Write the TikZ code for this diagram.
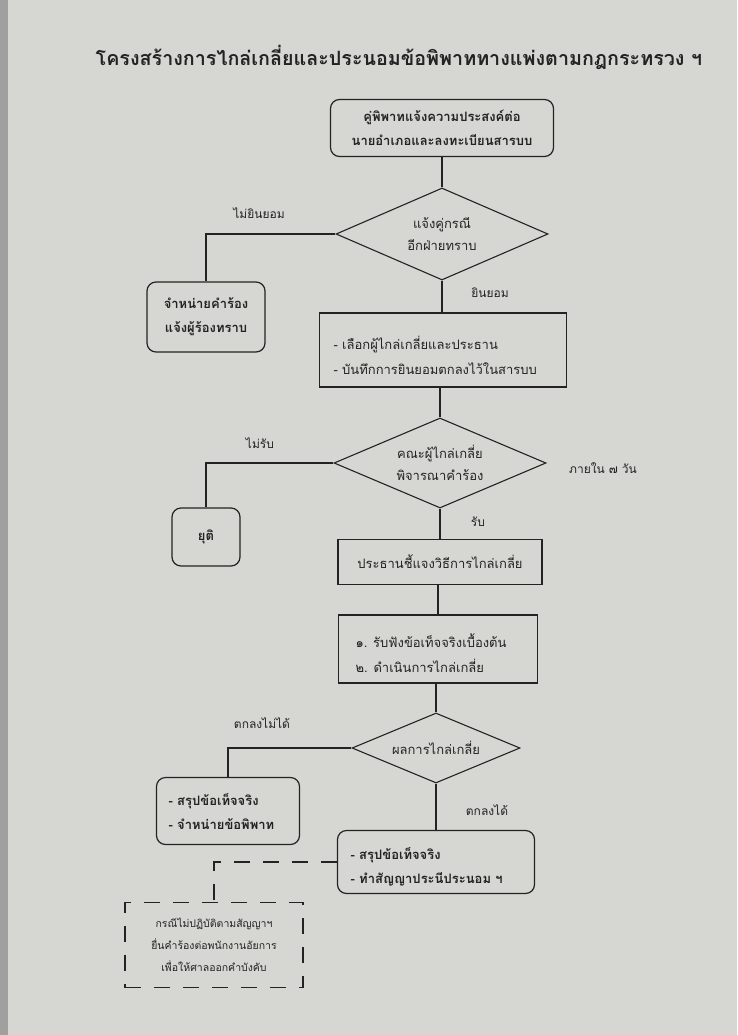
\documentclass[tikz,border=0pt]{standalone}
\usepackage{fontspec}
\newfontfamily\thai[Script=Thai]{Loma}
\usetikzlibrary{shapes.geometric}
\definecolor{paper}{RGB}{214,214,211}
\definecolor{edge}{RGB}{160,160,158}
\definecolor{ink}{RGB}{35,35,35}
\begin{document}
\begin{tikzpicture}[x=1pt,y=-1pt,
  every node/.style={text=ink},
  body/.style={font=\thai\fontsize{13pt}{25pt}\selectfont},
  dbody/.style={font=\thai\fontsize{13pt}{22pt}\selectfont},
  bbody/.style={font=\thai\bfseries\fontsize{13pt}{24pt}\selectfont},
  rbox/.style={draw=ink, line width=1.2pt, rounded corners=9pt, inner sep=0pt, align=center},
  sbox/.style={draw=ink, line width=1.1pt, inner sep=0pt},
  dec/.style={draw=ink, line width=1.1pt, shape=diamond, aspect=2.4, inner sep=0pt, align=center},
  dbox/.style={draw=ink, line width=1.2pt, dash pattern=on 16pt off 13pt, inner sep=0pt, align=center},
  conn/.style={draw=ink, line width=1.1pt},
  dconn/.style={draw=ink, line width=1.2pt, dash pattern=on 16pt off 13pt},
  lbl/.style={font=\thai\fontsize{12pt}{14pt}\selectfont},
  ttl/.style={font=\thai\bfseries\fontsize{19.7pt}{22pt}\selectfont}
]
\fill[paper] (0,0) rectangle (737,1035);
\fill[edge] (0,0) rectangle (8,1035);
\useasboundingbox (0,0) rectangle (737,1035);

\node[ttl] (title) at (399,57) {โครงสร้างการไกล่เกลี่ยและประนอมข้อพิพาททางแพ่งตามกฎกระทรวง ฯ};

\node[rbox,bbody,minimum width=223pt,minimum height=57pt] (top) at (442,128)
  {คู่พิพาทแจ้งความประสงค์ต่อ\\นายอำเภอและลงทะเบียนสารบบ};
\node[dec,dbody,minimum width=212pt,minimum height=92pt] (d1) at (442,234)
  {แจ้งคู่กรณี\\อีกฝ่ายทราบ};
\node[rbox,bbody,minimum width=118pt,minimum height=70pt] (lb1) at (206,317)
  {จำหน่ายคำร้อง\\แจ้งผู้ร้องทราบ};
\node[sbox,body,minimum width=247pt,minimum height=74pt] (b6) at (443,350) {};
\node[body,align=left,anchor=west] (b6t) at (330,355)
  {- เลือกผู้ไกล่เกลี่ยและประธาน\\- บันทึกการยินยอมตกลงไว้ในสารบบ};
\node[dec,dbody,minimum width=212pt,minimum height=90pt] (d2) at (440,463)
  {คณะผู้ไกล่เกลี่ย\\พิจารณาคำร้อง};
\node[rbox,bbody,minimum width=68pt,minimum height=58pt] (yuti) at (206,537) {ยุติ};
\node[sbox,body,minimum width=204pt,minimum height=45pt] (b10) at (440,562)
  {ประธานชี้แจงวิธีการไกล่เกลี่ย};
\node[sbox,body,minimum width=199pt,minimum height=68pt] (b11) at (438,649) {};
\node[body,align=left,anchor=west] (b11t) at (352,653)
  {๑. รับฟังข้อเท็จจริงเบื้องต้น\\๒. ดำเนินการไกล่เกลี่ย};
\node[dec,dbody,minimum width=168pt,minimum height=70pt] (d3) at (436,748)
  {ผลการไกล่เกลี่ย};
\node[rbox,bbody,minimum width=143pt,minimum height=67pt] (lb3) at (228,811) {};
\node[bbody,align=left,anchor=west] (lb3t) at (165,812)
  {- สรุปข้อเท็จจริง\\- จำหน่ายข้อพิพาท};
\node[rbox,bbody,minimum width=197pt,minimum height=63pt] (fin) at (436,862) {};
\node[bbody,align=left,anchor=west] (fint) at (347,867)
  {- สรุปข้อเท็จจริง\\- ทำสัญญาประนีประนอม ฯ};
\node[dbox,font=\thai\fontsize{10.5pt}{22pt}\selectfont,minimum width=178pt,minimum height=85pt] (dash) at (214,945)
  {กรณีไม่ปฏิบัติตามสัญญาฯ\\ยื่นคำร้องต่อพนักงานอัยการ\\เพื่อให้ศาลออกคำบังคับ};

\node[lbl] (l1) at (259,213) {ไม่ยินยอม};
\node[lbl] (l2) at (490,293) {ยินยอม};
\node[lbl] (l3) at (260,443) {ไม่รับ};
\node[lbl] (l4) at (603,468) {ภายใน ๗ วัน};
\node[lbl] (l5) at (478,522) {รับ};
\node[lbl] (l6) at (262,723) {ตกลงไม่ได้};
\node[lbl] (l7) at (487,810) {ตกลงได้};

\draw[conn] (top.south) -- (d1.north);
\draw[conn] (d1.west) -| (lb1.north);
\draw[conn] (d1.south) -- (d1.south |- b6.north);
\draw[conn] (b6.south -| d2.north) -- (d2.north);
\draw[conn] (d2.west) -| (yuti.north);
\draw[conn] (d2.south) -- (d2.south |- b10.north);
\draw[conn] (b10.south -| b11.north) -- (b11.north);
\draw[conn] (b11.south -| d3.north) -- (d3.north);
\draw[conn] (d3.west) -| (lb3.north);
\draw[conn] (d3.south) -- (fin.north);
\draw[dconn] (fin.west) -| (dash.north);
\end{tikzpicture}
\end{document}
